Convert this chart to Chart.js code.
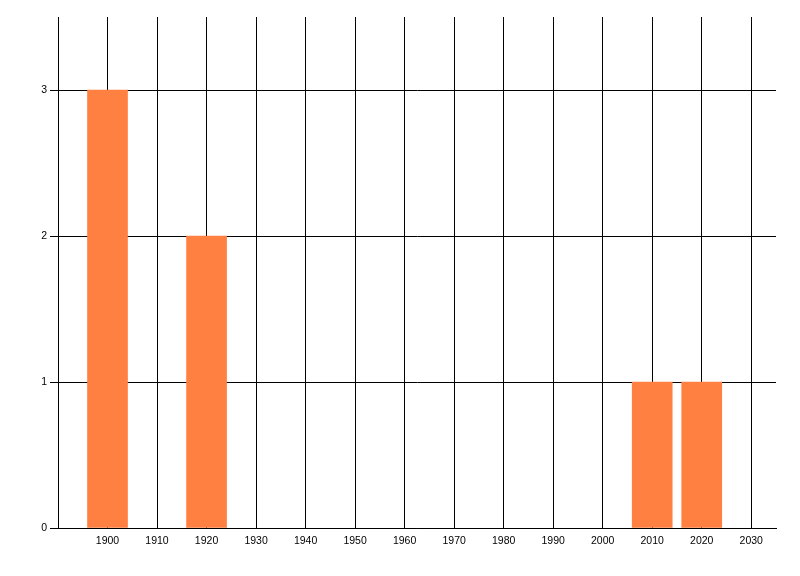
<!DOCTYPE html>
<html>
<head>
<meta charset="utf-8">
<script src="https://cdn.jsdelivr.net/npm/chart.js@4/dist/chart.umd.min.js"></script>
<style>
  html, body { margin: 0; padding: 0; background: #fff; }
  #wrap { width: 800px; height: 576px; position: relative; }
</style>
</head>
<body>
<div id="wrap"><canvas id="chart"></canvas></div>
<script>
// 数据
const years = [1900, 1920, 2010, 2020];
const counts = [3, 2, 1, 1];
const xTicks = [1890, 1900, 1910, 1920, 1930, 1940, 1950, 1960, 1970, 1980, 1990, 2000, 2010, 2020, 2030];
const yTicks = [0, 1, 2, 3];

const points = years.map((y, i) => ({ x: y, y: counts[i] }));

const ctx = document.getElementById('chart').getContext('2d');
new Chart(ctx, {
    type: 'bar',
    data: {
        datasets: [{
            data: points,
            backgroundColor: 'rgb(255, 128, 64)',
            borderWidth: 0,
            barThickness: 40
        }]
    },
    options: {
        responsive: true,
        maintainAspectRatio: false,
        animation: false,
        layout: {
            padding: { top: 17, right: 24, left: 0, bottom: 0 }
        },
        plugins: {
            legend: { display: false },
            tooltip: { enabled: false }
        },
        scales: {
            x: {
                type: 'linear',
                min: 1890,
                max: 2035,
                offset: false,
                afterBuildTicks: (scale) => {
                    scale.ticks = xTicks.map(v => ({ value: v }));
                },
                afterFit: (scale) => { scale.height = 48; },
                grid: {
                    offset: false,
                    color: '#000',
                    lineWidth: 1,
                    drawTicks: false
                },
                border: { color: '#000', width: 1 },
                ticks: {
                    color: '#000',
                    padding: 7,
                    maxRotation: 0,
                    autoSkip: false,
                    font: { family: 'Liberation Sans, Arial, sans-serif', size: 10.5 },
                    callback: (v) => v === 1890 ? '' : String(v)
                }
            },
            y: {
                min: 0,
                max: 3.5,
                afterBuildTicks: (scale) => {
                    scale.ticks = yTicks.map(v => ({ value: v }));
                },
                afterFit: (scale) => { scale.width = 58; },
                grid: {
                    color: '#000',
                    lineWidth: 1,
                    drawTicks: true,
                    tickLength: 8
                },
                border: { color: '#000', width: 1 },
                ticks: {
                    color: '#000',
                    padding: 3,
                    font: { family: 'Liberation Sans, Arial, sans-serif', size: 10.5 }
                }
            }
        }
    }
});
</script>
</body>
</html>
